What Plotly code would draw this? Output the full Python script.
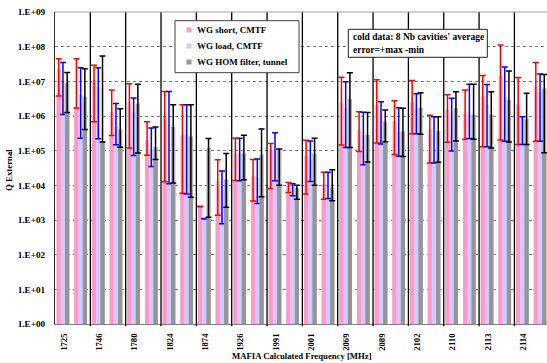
import plotly.graph_objects as go

# ---------------- data ----------------
freq_labels = ["1725", "1746", "1780", "1824", "1874", "1926", "1991",
               "2001", "2069", "2089", "2102", "2110", "2113", "2114"]
n_modes = 28  # two modes per labelled frequency pair
mode_index = list(range(n_modes))

short_avg = [2.3e7, 1.75e6, 1.07e7, 1.32e6, 2.5e6, 2.0e5, 8.7e5, 2.75e5, 2.4e3, 1.32e4,
             8.3e4, 1.82e4, 1.02e5, 1.05e4, 7.1e4, 1.07e4, 2.5e6, 4.0e5, 2.1e6, 6.9e5,
             2.5e6, 4.1e5, 1.55e6, 1.17e6, 3.6e6, 1.45e7, 2.2e6, 7.2e6]
short_max = [4.5e7, 4.5e7, 2.9e7, 5.6e6, 8.5e6, 6.8e5, 5.1e6, 2.1e6, 2.5e3, 5.5e4,
             2.3e5, 5.6e4, 1.62e5, 1.2e4, 2.0e5, 2.4e4, 1.32e7, 1.32e6, 1.12e7, 2.75e6,
             1.05e7, 1.05e6, 4.1e6, 5.6e6, 1.48e7, 1.12e8, 1.29e7, 3.5e7]
short_min = [3.8e6, 1.7e6, 6.8e5, 2.75e5, 1.2e5, 7.4e4, 1.26e4, 5.9e3, 2.4e3, 1.38e3,
             1.38e4, 3.55e3, 8.1e3, 6.2e3, 5.6e3, 4.0e3, 1.45e5, 9.5e4, 1.66e5, 7.8e4,
             3.1e5, 4.4e4, 1.74e5, 2.14e5, 1.29e5, 2.04e5, 1.51e5, 1.86e5]

load_avg = [9.5e6, 4.0e6, 6.8e6, 5.0e5, 1.32e6, 1.12e5, 1.2e4, 2.75e5, 1.07e3, 7.6e3,
            8.3e4, 1.66e4, 1.07e5, 9.5e3, 5.6e4, 4.5e3, 1.7e6, 2.8e5, 1.05e6, 3.55e5,
            1.58e6, 4.6e4, 1.15e6, 1.12e6, 2.04e6, 3.55e6, 8.9e5, 5.0e6]
load_max = [3.5e7, 2.45e7, 2.45e7, 2.3e6, 3.3e6, 4.5e5, 5.1e6, 2.1e6, 1.1e3, 2.57e4,
            2.3e5, 5.75e4, 3.3e5, 1.12e4, 1.9e5, 2.4e4, 9.8e6, 1.29e6, 2.57e6, 1.74e6,
            4.4e6, 9.5e5, 3.24e6, 8.3e6, 8.1e6, 2.57e7, 9.5e5, 1.62e7]
load_min = [1.1e6, 2.3e5, 2.2e5, 1.48e5, 7.2e4, 3.5e4, 1.12e4, 5.6e3, 1.07e3, 7.8e2,
            1.35e4, 3.0e3, 1.35e4, 5.0e3, 1.29e4, 4.2e3, 1.23e5, 3.9e4, 1.55e5, 6.9e4,
            3.1e5, 4.4e4, 9.8e4, 2.24e5, 1.29e5, 1.86e5, 1.51e5, 1.86e5]

hom_avg = [8.9e6, 3.6e6, 1.86e5, 4.1e5, 2.3e6, 1.26e5, 4.8e5, 2.6e5, 1.2e5, 1.48e4,
           8.3e4, 7.6e4, 1.05e5, 8.5e3, 8.3e4, 8.3e3, 3.1e6, 2.9e5, 6.9e5, 3.55e5,
           1.74e6, 3.7e5, 1.66e6, 1.1e6, 1.1e6, 2.9e6, 8.3e5, 6.2e6]
hom_max = [1.8e7, 2.3e7, 5.4e7, 1.62e6, 8.3e6, 4.8e5, 2.1e6, 2.1e6, 2.24e5, 8.3e4,
           2.8e5, 4.2e5, 1.12e5, 1.0e4, 2.3e5, 2.8e4, 1.78e7, 1.26e6, 1.5e6, 1.66e6,
           4.7e6, 9.5e5, 5.0e6, 8.3e6, 5.0e6, 2.0e7, 4.5e6, 1.58e7]
hom_min = [1.26e6, 4.1e5, 1.78e5, 1.26e5, 8.5e4, 5.6e4, 1.17e4, 4.5e3, 1.2e3, 2.34e3,
           1.45e4, 4.7e3, 1.0e4, 4.0e3, 1.0e4, 3.6e3, 1.23e5, 4.7e4, 1.82e5, 6.8e4,
           3.0e5, 4.6e4, 1.91e5, 2.14e5, 1.2e5, 1.78e5, 1.51e5, 8.7e4]

series_names = ["WG short, CMTF", "WG load, CMTF", "WG HOM filter, tunnel"]
y_tick_vals = [10 ** k for k in range(10)]
y_tick_text = ["1.E+%02d" % k for k in range(10)]
note_lines = ["cold data: 8 Nb cavities' average", "error=+max -min"]
x_title = "MAFIA Calculated Frequency [MHz]"
y_title = "Q External"

# ---------------- style ----------------
FONT = "Liberation Serif"
W, H = 547, 363
ML, MR, MT, MB = 55, 0, 12, 39
PW, PH = W - ML - MR, H - MT - MB
CAT_PX = 17.67
x_hi = -0.5 + PW / CAT_PX

dark_cols = ["#FF99CC", "#CCCCFF", "#959595"]
light_cols = ["#FFBBDD", "#DEDEFF", "#AEAEAE"]
err_cols = ["#FF0000", "#0000FF", "#000000"]
bar_w = 0.24
offsets = [-0.05 - 1.5 * bar_w, -0.05 - 0.5 * bar_w, -0.05 + 0.5 * bar_w]

series = [(short_avg, short_max, short_min),
          (load_avg, load_max, load_min),
          (hom_avg, hom_max, hom_min)]


def bfont(size):
    return dict(family=FONT, size=size, color="black", weight="bold")


fig = go.Figure()
# full bars (average), lighter tone
for i, (avg, mx, mn) in enumerate(series):
    fig.add_trace(go.Bar(x=mode_index, y=avg, name=series_names[i],
                         marker=dict(color=light_cols[i], line=dict(width=0)),
                         offset=offsets[i], width=bar_w, showlegend=False))
# lower part of bars (minimum) in solid tone, carrying the +max/-min error bars
for i, (avg, mx, mn) in enumerate(series):
    fig.add_trace(go.Bar(x=mode_index, y=mn, name=series_names[i],
                         marker=dict(color=dark_cols[i], line=dict(width=0)),
                         offset=offsets[i], width=bar_w, showlegend=False,
                         error_y=dict(type="data", symmetric=False,
                                      array=[a - b for a, b in zip(mx, mn)],
                                      arrayminus=[0] * len(mn),
                                      color=err_cols[i], thickness=1.5, width=3)))


def px_x(p):
    return (p - ML) / PW


def px_y(p):
    return 1 - (p - MT) / PH


shapes = []
for k in range(13):
    xs = 1.5 + 2 * k
    shapes.append(dict(type="line", xref="x", yref="paper", x0=xs, x1=xs,
                       y0=-0.007, y1=1, line=dict(color="black", width=1.3)))
shapes.append(dict(type="line", xref="paper", yref="paper", x0=0, x1=1, y0=1, y1=1,
                   line=dict(color="#A0A0A0", width=1)))
# legend box
shapes.append(dict(type="rect", xref="paper", yref="paper",
                   x0=px_x(175), x1=px_x(299), y0=px_y(72.7), y1=px_y(20.7),
                   fillcolor="white", line=dict(color="#404040", width=1)))
# note box
shapes.append(dict(type="rect", xref="paper", yref="paper",
                   x0=px_x(348.3), x1=px_x(487.3), y0=px_y(57.3), y1=px_y(29.3),
                   fillcolor="white", line=dict(color="#202020", width=1)))

annotations = []
leg_y = [30, 46, 62]
for i in range(3):
    shapes.append(dict(type="rect", xref="paper", yref="paper",
                       x0=px_x(186.5), x1=px_x(191.5),
                       y0=px_y(leg_y[i] + 2.5), y1=px_y(leg_y[i] - 2.5),
                       fillcolor=dark_cols[i], line=dict(width=0)))
    annotations.append(dict(text=series_names[i], xref="paper", yref="paper",
                            x=px_x(194.5), y=px_y(leg_y[i]), xanchor="left",
                            yanchor="middle", showarrow=False, font=bfont(9.0)))
for j, (t, yy) in enumerate(zip(note_lines, [37, 50])):
    annotations.append(dict(text=t, xref="paper", yref="paper",
                            x=px_x(350.5), y=px_y(yy), xanchor="left",
                            yanchor="middle", showarrow=False, font=bfont(9.5)))
annotations.append(dict(text=x_title, xref="paper", yref="paper",
                        x=px_x(302), y=px_y(356), xanchor="center", yanchor="middle",
                        showarrow=False, font=bfont(8.7)))
annotations.append(dict(text=y_title, xref="paper", yref="paper",
                        x=px_x(9), y=px_y(170), xanchor="center", yanchor="middle",
                        textangle=-90, showarrow=False, font=bfont(8.8)))

fig.update_layout(
    width=W, height=H,
    margin=dict(l=ML, r=MR, t=MT, b=MB, pad=0),
    paper_bgcolor="white", plot_bgcolor="white",
    barmode="overlay", showlegend=False,
    shapes=shapes, annotations=annotations,
    xaxis=dict(range=[-0.5, x_hi], tickmode="array",
               tickvals=mode_index[::2], ticktext=freq_labels,
               tickangle=-90, tickfont=bfont(8.7),
               showgrid=False, zeroline=False, showline=True,
               linecolor="#808080", linewidth=1, ticks="", ticklabelstandoff=5,
               fixedrange=True),
    yaxis=dict(type="log", range=[0, 9], tickmode="array",
               tickvals=y_tick_vals, ticktext=y_tick_text,
               tickfont=bfont(9.2),
               showgrid=True, gridcolor="#7A7A7A", griddash="dot", gridwidth=1,
               zeroline=False, showline=True, linecolor="#303030", linewidth=1,
               ticks="", ticklabelstandoff=7, fixedrange=True),
)

fig.write_html("out.html", config={"displayModeBar": False},
               post_script="document.body.style.margin='0';document.body.style.overflow='hidden';")
